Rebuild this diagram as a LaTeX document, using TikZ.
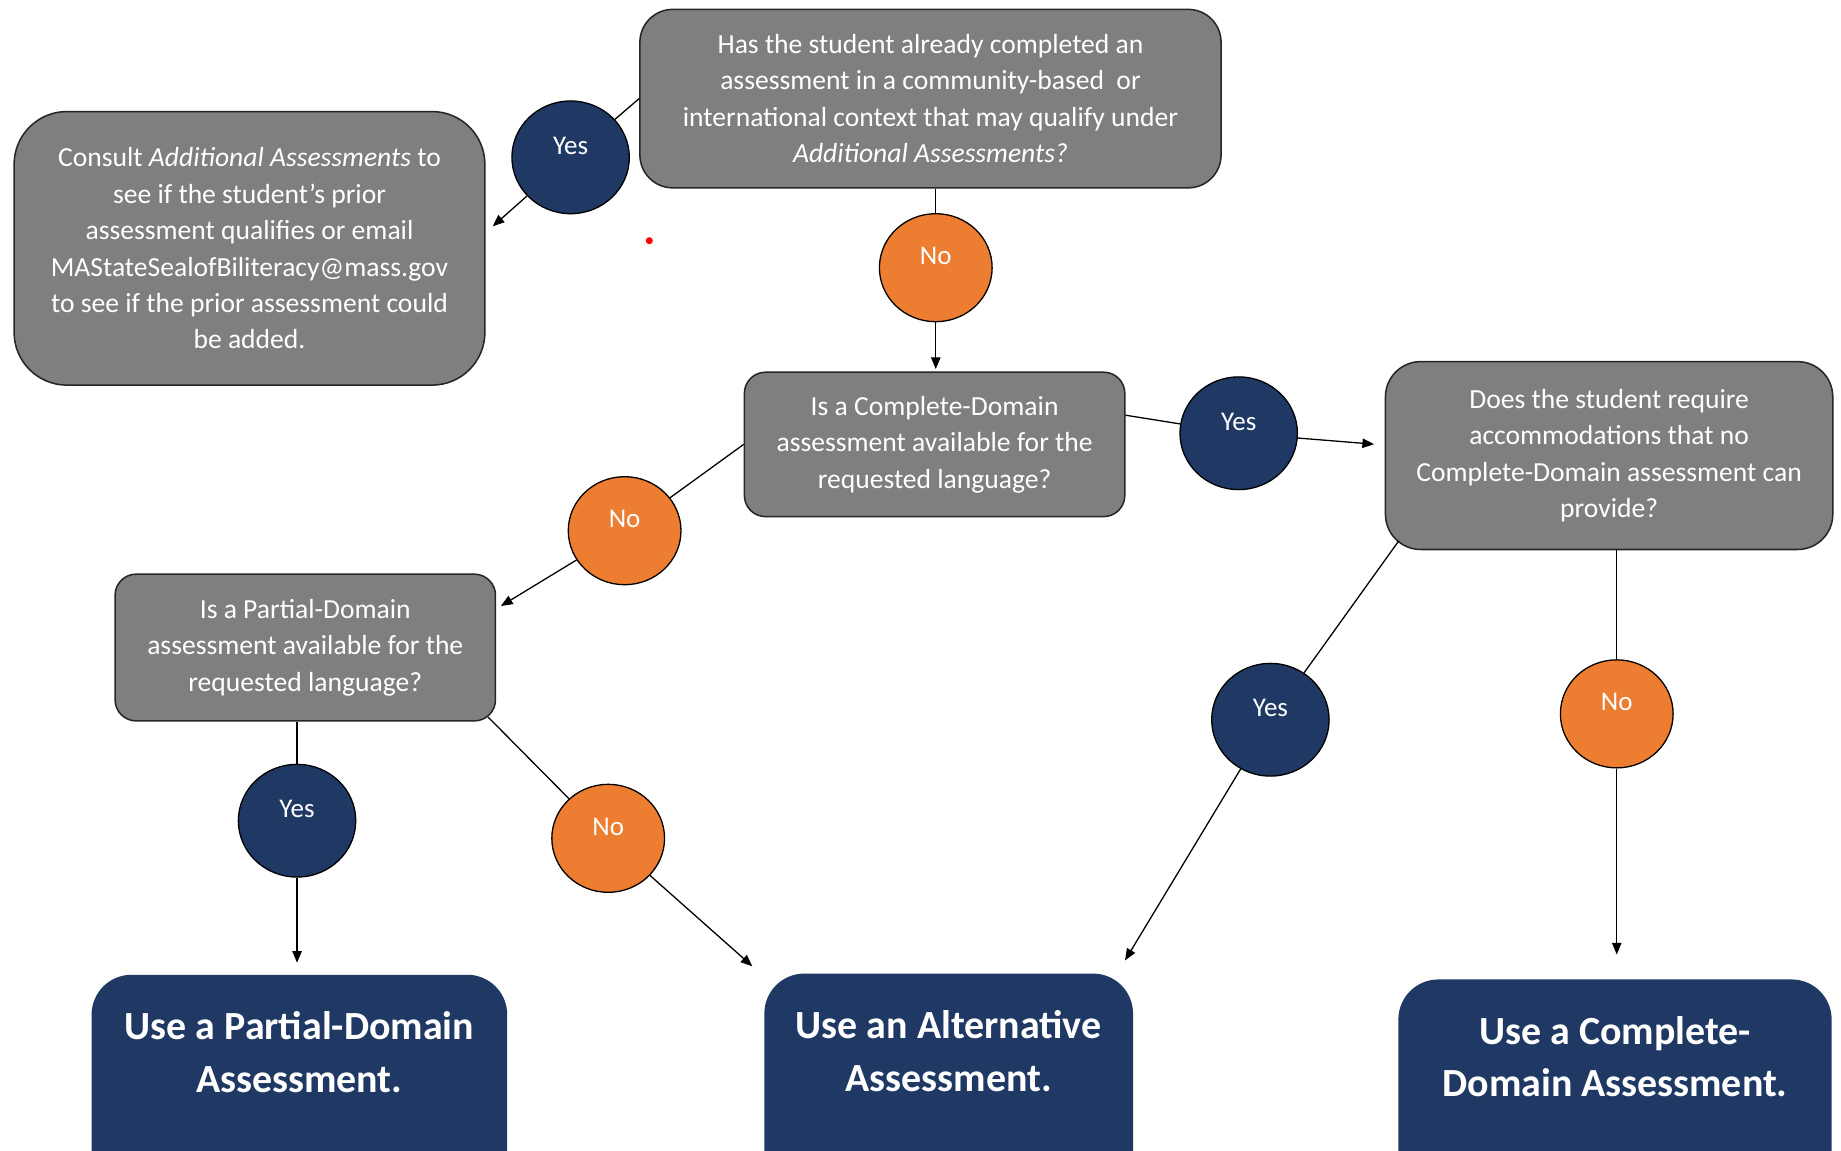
\documentclass[tikz,border=0pt]{standalone}
\usepackage{fontspec}
\setmainfont{Carlito}
\usetikzlibrary{arrows.meta,shapes.geometric,calc}
\definecolor{boxgray}{HTML}{7F7F7F}
\definecolor{navyblue}{HTML}{1F3864}
\definecolor{orng}{HTML}{ED7D31}
\newcommand{\up}[1]{\raisebox{10pt}[\height][\depth]{#1}}
\begin{document}
\begin{tikzpicture}[x=1pt,y=-1pt,
  qbox/.style={draw=black!85, line width=1.3pt, fill=boxgray, text=white, align=center,
    font=\fontsize{23.5}{31}\selectfont, inner sep=0pt},
  yesc/.style={ellipse, draw=black, line width=1.1pt, fill=navyblue, text=white,
    minimum width=100pt, minimum height=96pt, inner sep=0pt, font=\fontsize{23}{28}\selectfont},
  noc/.style={yesc, fill=orng, minimum width=96pt, minimum height=92pt},
  finalbox/.style={fill=navyblue, rounded corners=34pt, anchor=north, inner sep=0pt, minimum height=220pt},
  finaltext/.style={text=white, align=center, font=\bfseries\fontsize{34}{45}\selectfont},
  conn/.style={line width=1.1pt, black},
  arr/.style={conn, -{Triangle[length=10pt,width=8pt]}}
]
\useasboundingbox (0,0) rectangle (1568,980);
\clip (0,0) rectangle (1568,980);
\fill[white] (0,0) rectangle (1568,980);

% question boxes
\node[qbox, rounded corners=28pt, minimum width=495pt, minimum height=152pt] (q1) at (792.5,84)
  {Has the student already completed an\\assessment in a community-based\ \ or\\international context that may qualify under\\\textit{Additional Assessments?}};
\node[qbox, rounded corners=45pt, minimum width=401pt, minimum height=233pt] (consult) at (212.5,211.5)
  {Consult \textit{Additional Assessments} to\\see if the student's prior\\assessment qualifies or email\\MAStateSealofBiliteracy@mass.gov\\to see if the prior assessment could\\be added.};
\node[qbox, rounded corners=18pt, minimum width=324pt, minimum height=123pt] (q2) at (796,378.5)
  {Is a Complete-Domain\\assessment available for the\\requested language?};
\node[qbox, rounded corners=30pt, minimum width=381pt, minimum height=160pt] (q3) at (1370.5,388)
  {Does the student require\\accommodations that no\\Complete-Domain assessment can\\provide?};
\node[qbox, rounded corners=18pt, minimum width=324pt, minimum height=125pt] (q4) at (260,551.5)
  {Is a Partial-Domain\\assessment available for the\\requested language?};

% final boxes
\node[finalbox, minimum width=354pt] (P) at (255,830) {};
\node[finaltext] (Ptext) at ($(P.north)+(0,66)$) {Use a Partial-Domain\\Assessment.};
\node[finalbox, minimum width=314pt] (A) at (808,829) {};
\node[finaltext] (Atext) at ($(A.north)+(0,66)$) {Use an Alternative\\Assessment.};
\node[finalbox, minimum width=369pt] (C) at (1375.5,834) {};
\node[finaltext] (Ctext) at ($(C.north)+(0,66)$) {Use a Complete-\\Domain Assessment.};

% yes / no circles
\node[yesc] (yes1) at (486,134) {\up{Yes}};
\node[noc]  (no1)  at (797,228) {\up{No}};
\node[yesc] (yes2) at (1055,369) {\up{Yes}};
\node[noc]  (no2)  at (532,452) {\up{No}};
\node[yesc] (yes3) at (253,699) {\up{Yes}};
\node[noc]  (no3)  at (518,714) {\up{No}};
\node[yesc] (yes4) at (1082,613) {\up{Yes}};
\node[noc]  (no4)  at (1377,608) {\up{No}};

% red dot
\node[circle, fill=red, inner sep=0pt, minimum size=6pt] (reddot) at (553,205) {};

% connectors
\draw[conn] (q1.west) -- (yes1);
\draw[arr] (yes1) -- ($(consult.north east)!0.42!(consult.south east)+(6,0)$);
\draw[conn] (q1.south -| no1) -- (no1);
\draw[arr] (no1) -- ($(q2.north -| no1)+(0,-2)$);
\draw[conn] ($(q2.north east)!0.3!(q2.south east)$) -- (yes2);
\draw[arr] (yes2) -- ($(q3.north west)!0.44!(q3.south west)+(-9,0)$);
\draw[conn] (q2.west) -- (no2);
\draw[arr] (no2) -- ($(q4.north east)!0.22!(q4.south east)+(4,0)$);
\draw[conn] (q4.south -| yes3) -- (yes3);
\draw[arr] (yes3) -- ($(P.north -| yes3)+(0,-10)$);
\draw[conn] ($(q4.south east)+(-7,-4)$) -- (no3);
\draw[arr] (no3) -- ($(A.north west)+(-10,-6)$);
\draw[conn] ($(q3.south west)+(12,-8)$) -- (yes4);
\draw[arr] (yes4) -- ($(A.north east)+(-7,-11)$);
\draw[conn] (q3.south -| no4) -- (no4);
\draw[arr] (no4) -- ($(C.north -| no4)+(0,-21)$);
\end{tikzpicture}
\end{document}
